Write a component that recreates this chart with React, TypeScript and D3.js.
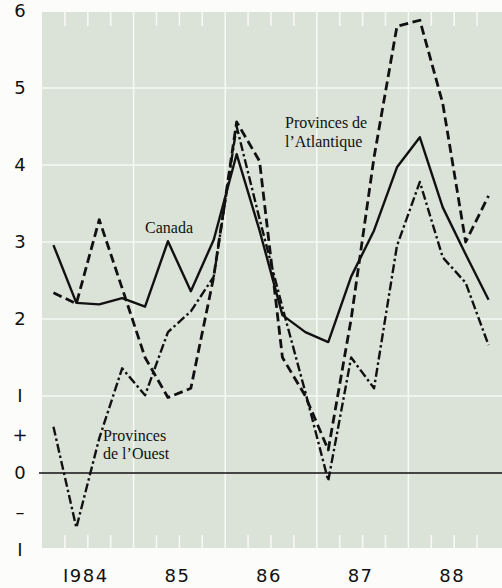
import React from "react";
import * as d3 from "d3";

const years = [1984, 1985, 1986, 1987, 1988];
const yearLabels = ["I984", "85", "86", "87", "88"];
const canada = [2.96, 2.21, 2.19, 2.27, 2.16, 3.01, 2.36, 3.03, 4.14, 3.15, 2.05, 1.83, 1.70, 2.55, 3.15, 3.97, 4.36, 3.45, 2.84, 2.25];
const atlantique = [2.34, 2.20, 3.29, 2.40, 1.50, 0.98, 1.10, 2.55, 4.56, 4.05, 1.50, 1.00, 0.30, 2.00, 4.10, 5.80, 5.88, 4.80, 3.00, 3.60];
const ouest = [0.60, -0.71, 0.45, 1.36, 1.01, 1.83, 2.10, 2.55, 4.50, 3.30, 2.15, 1.05, -0.10, 1.50, 1.10, 2.95, 3.78, 2.80, 2.47, 1.66];
const yTickValues = [6, 5, 4, 3, 2, 1, 0.5, 0, -0.5, -1];
const yTickLabels = ["6", "5", "4", "3", "2", "I", "+", "0", "\u2013", "I"];
const gridValues = [1, 2, 3, 4, 5];

const W = 502, H = 588;
const x = d3.scaleLinear().domain([1984, 1989]).range([42, 500]);
const y = d3.scaleLinear().domain([-1, 6]).range([550, 11]);
const xq = (i: number) => x(1984 + (i + 0.5) / 4);

const line = d3.line<number>().x((_, i) => xq(i)).y((d) => y(d));

export default function App() {
  const plotTop = 12, plotBottom = 548, plotLeft = 42, plotRight = 502;
  const quarterTicks = d3.range(1, 20).filter((i) => i % 4 !== 0).map((i) => 1984 + i / 4);
  const sans = "DejaVu Sans, Verdana, sans-serif";
  return (
    <svg width={W} height={H} style={{ position: "absolute", left: 0, top: 0 }}>
      <rect x={0} y={0} width={W} height={H} fill="#fcfcfa" />
      <rect x={plotLeft} y={plotTop} width={plotRight - plotLeft} height={plotBottom - plotTop} fill="#dbe3d8" />
      {gridValues.map((v) => (
        <line key={"h" + v} x1={plotLeft} x2={plotRight} y1={y(v)} y2={y(v)} stroke="#f6f8f4" strokeWidth={1.6} />
      ))}
      {years.slice(1).map((yr) => (
        <line key={"v" + yr} x1={x(yr)} x2={x(yr)} y1={plotTop} y2={plotBottom} stroke="#f6f8f4" strokeWidth={1.6} />
      ))}
      {quarterTicks.map((t) => (
        <g key={"q" + t}>
          <line x1={x(t)} x2={x(t)} y1={plotTop} y2={plotTop + 14} stroke="#f6f8f4" strokeWidth={1.6} />
          <line x1={x(t)} x2={x(t)} y1={plotBottom - 13} y2={plotBottom} stroke="#f6f8f4" strokeWidth={1.6} />
        </g>
      ))}
      <line x1={39} x2={plotRight} y1={y(0)} y2={y(0)} stroke="#111" strokeWidth={1.6} />
      <path d={line(ouest) || ""} fill="none" stroke="#111" strokeWidth={2.4} strokeDasharray="9,3,2.5,3" strokeLinejoin="round" />
      <path d={line(atlantique) || ""} fill="none" stroke="#111" strokeWidth={2.8} strokeDasharray="9,4.5" strokeLinejoin="round" />
      <path d={line(canada) || ""} fill="none" stroke="#111" strokeWidth={2.4} strokeLinejoin="round" />
      {yTickValues.map((v, i) => (
        <text key={"yl" + i} x={20} y={y(v)} dy="0.36em" textAnchor="middle" fontFamily={sans} fontSize={18} fill="#111">
          {yTickLabels[i]}
        </text>
      ))}
      {years.map((yr, i) => (
        <text key={"xl" + yr} x={x(yr + 0.5) - 2} y={582} textAnchor="middle" fontFamily={sans} fontSize={18} letterSpacing={1.5} fill="#111">
          {yearLabels[i]}
        </text>
      ))}
      <g fontFamily="Liberation Serif, Times New Roman, serif" fontSize={16} fill="#111">
        <text x={145} y={233}>Canada</text>
        <text x={285} y={128}>Provinces de</text>
        <text x={285} y={147}>l’Atlantique</text>
        <text x={103} y={441}>Provinces</text>
        <text x={103} y={459}>de l’Ouest</text>
      </g>
    </svg>
  );
}
